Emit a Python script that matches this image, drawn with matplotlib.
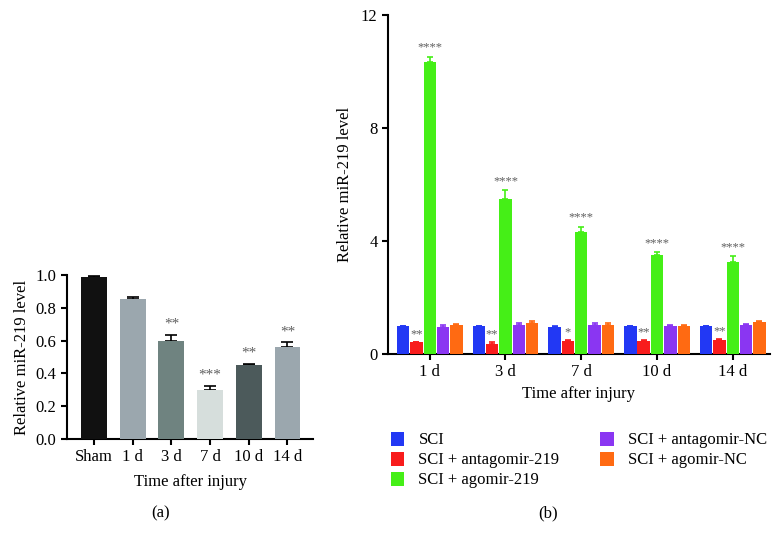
import numpy as np
import matplotlib
matplotlib.use("Agg")
from matplotlib import pyplot as plt

plt.rcParams['font.family'] = ['Liberation Serif', 'DejaVu Serif']

# panel (a) data
a_labels = ["Sham", "1 d", "3 d", "7 d", "10 d", "14 d"]
a_values = [0.99, 0.855, 0.60, 0.30, 0.45, 0.56]
a_errors = [0.004, 0.008, 0.035, 0.022, 0.01, 0.03]
a_stars = ["", "", "**", "***", "**", "**"]
a_colors = ["#111111", "#9ba7ae", "#6f8380", "#d6dedc", "#4c5a5b", "#9ba7ae"]

# panel (b) data
b_days = ["1 d", "3 d", "7 d", "10 d", "14 d"]
b_groups = ["SCI", "SCI + antagomir-219", "SCI + agomir-219",
            "SCI + antagomir-NC", "SCI + agomir-NC"]
b_colors = ["#2238f4", "#f81c1c", "#45ef17", "#8a36f2", "#ff6a12"]
sci = [0.99, 0.98, 0.97, 0.98, 0.98]
antagomir = [0.42, 0.37, 0.46, 0.47, 0.48]
agomir = [10.33, 5.49, 4.31, 3.49, 3.25]
antagomir_nc = [0.95, 1.01, 1.04, 0.99, 1.04]
agomir_nc = [1.04, 1.10, 1.04, 0.98, 1.13]
sci_err = [0.01, 0.01, 0.01, 0.01, 0.01]
antagomir_err = [0.02, 0.06, 0.04, 0.03, 0.06]
agomir_err = [0.2, 0.3, 0.2, 0.12, 0.22]
antagomir_nc_err = [0.06, 0.08, 0.04, 0.04, 0.03]
agomir_nc_err = [0.03, 0.05, 0.07, 0.05, 0.03]
antagomir_stars = ["**", "**", "*", "**", "**"]
agomir_stars = ["****"] * 5

fig = plt.figure(figsize=(7.81, 5.45), dpi=100)
star_col = "#5f5f5f"

# ---- (a)
ax1 = fig.add_axes([0.0858, 0.1945, 0.315, 0.3009])
xa = np.arange(len(a_labels))
ax1.bar(xa, a_values, width=0.67, color=a_colors, zorder=3)
ax1.errorbar(xa, a_values, yerr=[np.zeros(len(xa)), a_errors], fmt="none",
             ecolor="black", elinewidth=1.2, capsize=4, capthick=1.2, zorder=2)
for x, v, e, s in zip(xa, a_values, a_errors, a_stars):
    if s:
        ax1.annotate(s, (x, v + e), xytext=(0, 3), textcoords="offset points",
                     ha="center", va="bottom", fontsize=11, color=star_col)
ax1.set_xlim(-0.7, 5.66)
ax1.set_ylim(0, 1.0)
ax1.set_yticks([0.0, 0.2, 0.4, 0.6, 0.8, 1.0])
ax1.set_yticklabels(["0.0", "0.2", "0.4", "0.6", "0.8", "1.0"])
ax1.set_xticks(xa)
ax1.set_xticklabels(a_labels)
ax1.set_ylabel("Relative miR-219 level", fontsize=12)
ax1.set_xlabel("Time after injury", fontsize=12, labelpad=6)

# ---- (b)
ax2 = fig.add_axes([0.4968, 0.3505, 0.489, 0.622])
xb = np.arange(len(b_days))
series = [sci, antagomir, agomir, antagomir_nc, agomir_nc]
errs = [sci_err, antagomir_err, agomir_err, antagomir_nc_err, agomir_nc_err]
step = 0.176
w = 0.163
for i, (vals, er, c, name) in enumerate(zip(series, errs, b_colors, b_groups)):
    pos = xb + (i - 2) * step
    ax2.bar(pos, vals, width=w, color=c, label=name, zorder=3)
    ax2.errorbar(pos, vals, yerr=[np.zeros(len(xb)), er], fmt="none",
                 ecolor=c, elinewidth=1.2, capsize=2.5, capthick=1.2, zorder=2)
    if i == 1:
        for p, v, e, s in zip(pos, vals, er, antagomir_stars):
            ax2.annotate(s, (p, v + e), xytext=(0, 1), textcoords="offset points",
                         ha="center", va="bottom", fontsize=9, color=star_col)
    if i == 2:
        for p, v, e, s in zip(pos, vals, er, agomir_stars):
            ax2.annotate(s, (p, v + e), xytext=(0, 2), textcoords="offset points",
                         ha="center", va="bottom", fontsize=9, color=star_col)
ax2.set_xlim(-0.55, 4.49)
ax2.set_ylim(0, 12)
ax2.set_yticks([0, 4, 8, 12])
ax2.set_xticks(xb)
ax2.set_xticklabels(b_days)
ax2.set_ylabel("Relative miR-219 level", fontsize=12, labelpad=6)
ax2.set_xlabel("Time after injury", fontsize=12, labelpad=4)

for ax in (ax1, ax2):
    ax.spines["top"].set_visible(False)
    ax.spines["right"].set_visible(False)
    ax.spines["left"].set_linewidth(1.5)
    ax.spines["bottom"].set_linewidth(1.5)
    ax.tick_params(direction="out", length=4, width=1.5, labelsize=12)

handles, labels = ax2.get_legend_handles_labels()
fig.legend(handles, labels, ncol=2, loc="upper left",
           bbox_to_anchor=(0.492, 0.22), frameon=False, fontsize=12,
           handlelength=0.8, handleheight=0.9, handletextpad=0.85,
           columnspacing=2.45, labelspacing=0.2, borderaxespad=0)

fig.text(0.205, 0.05, "(a)", ha="center", fontsize=12)
fig.text(0.702, 0.05, "(b)", ha="center", fontsize=12)

fig.savefig("out.png", dpi=100)
